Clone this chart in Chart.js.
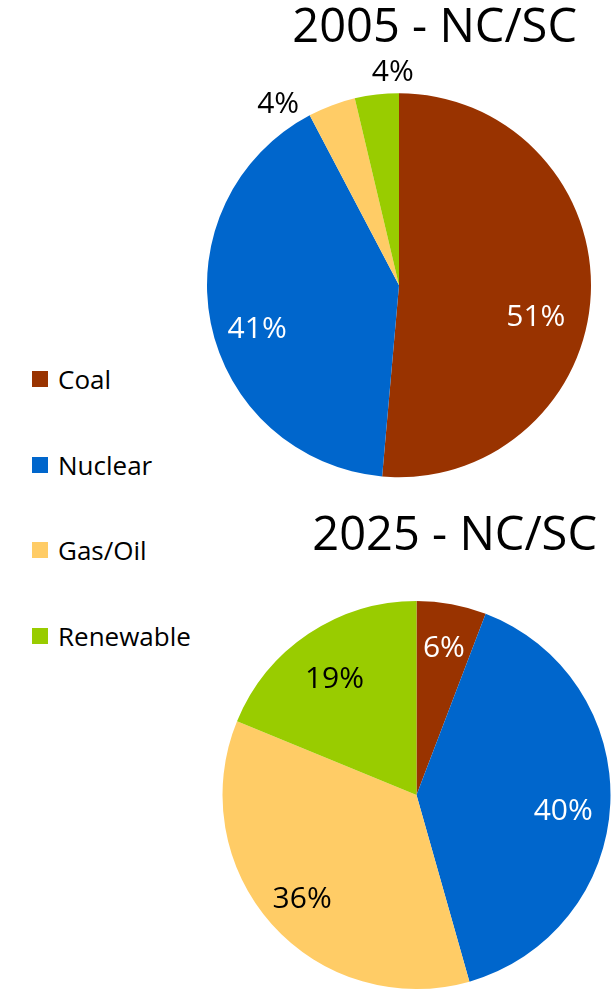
<!DOCTYPE html>
<html>
<head>
<meta charset="utf-8">
<title>NC/SC generation mix</title>
<script src="https://cdn.jsdelivr.net/npm/chart.js@4.4.1/dist/chart.umd.min.js"></script>
<style>
    html, body { margin: 0; padding: 0; background: #fff; overflow: hidden; }
    #page { position: relative; width: 616px; height: 990px; font-family: 'Open Sans', sans-serif; }
    .chart-box { position: absolute; }
    #box2005 { left: 200px; top: 0; width: 398px; height: 490px; }
    #box2025 { left: 217px; top: 508px; width: 399px; height: 482px; }
    #legend { position: absolute; left: 32px; top: 364px; margin: 0; padding: 0; list-style: none; }
    #legend li { display: flex; align-items: center; height: 30px; margin-bottom: 55.5px; font-size: 26px; color: #000; }
    #legend .swatch { width: 16px; height: 16px; margin-right: 10px; flex: none; }
</style>
</head>
<body>
<div id="page">
    <div class="chart-box" id="box2005"><canvas id="chart2005"></canvas></div>
    <div class="chart-box" id="box2025"><canvas id="chart2025"></canvas></div>
    <ul id="legend"></ul>
</div>
<script>
// ============================================================================
// Data (shares in percent)
// ============================================================================
const SOURCES = ['Coal', 'Nuclear', 'Gas/Oil', 'Renewable'];
const SHARE_2005 = [51.4, 40.9, 4.0, 3.7];
const SHARE_2025 = [5.8, 39.8, 35.6, 18.8];
const TITLE_2005 = '2005 - NC/SC';
const TITLE_2025 = '2025 - NC/SC';

// Excel-ish palette
const COLORS = ['#993300', '#0066cc', '#ffcc66', '#99cc00'];
const LABEL_INK = ['#ffffff', '#ffffff', '#000000', '#000000'];
const FONT = "'Open Sans', sans-serif";

// ============================================================================
// Legend (HTML, built from the same arrays)
// ============================================================================
const legendEl = document.getElementById('legend');
SOURCES.forEach((name, i) => {
    const li = document.createElement('li');
    const sw = document.createElement('span');
    sw.className = 'swatch';
    sw.style.background = COLORS[i];
    li.appendChild(sw);
    li.appendChild(document.createTextNode(name));
    legendEl.appendChild(li);
});

/**
 * Percentage labels drawn on (or just outside) each slice.
 * dist = fraction of the radius, nudge = degrees added to the mid angle.
 */
function makeLabelPlugin(dist, nudge) {
    return {
        id: 'pieLabels',
        afterDatasetsDraw(chart) {
            const ctx = chart.ctx;
            const values = chart.data.datasets[0].data;
            const total = values.reduce((a, b) => a + b, 0);
            const arcs = chart.getDatasetMeta(0).data;
            const size = 30;

            ctx.save();
            ctx.font = `${size}px ${FONT}`;
            ctx.textAlign = 'center';
            ctx.textBaseline = 'alphabetic';
            arcs.forEach((arc, i) => {
                const p = arc.getProps(['x', 'y', 'startAngle', 'endAngle', 'outerRadius'], true);
                const pct = values[i] / total * 100;
                const outside = pct < 5;
                const mid = (p.startAngle + p.endAngle) / 2 + nudge[i] * Math.PI / 180;
                const lx = p.x + Math.cos(mid) * p.outerRadius * dist[i];
                const ly = p.y + Math.sin(mid) * p.outerRadius * dist[i];
                ctx.fillStyle = outside ? '#000000' : LABEL_INK[i];
                ctx.fillText(Math.round(pct) + '%', lx, ly + size * 0.357);
            });
            ctx.restore();
        }
    };
}

function renderPie(canvasId, title, values, radius, padX, titleGap, labelDist, labelNudge) {
    const ctx = document.getElementById(canvasId).getContext('2d');
    return new Chart(ctx, {
        type: 'pie',
        data: {
            labels: SOURCES,
            datasets: [{
                data: values,
                backgroundColor: COLORS,
                borderWidth: 0,
                radius: radius,
                clip: false
            }]
        },
        options: {
            responsive: true,
            maintainAspectRatio: false,
            animation: false,
            layout: { padding: { left: padX, right: padX, top: 0, bottom: 0 } },
            plugins: {
                legend: { display: false },
                tooltip: { enabled: false },
                title: {
                    display: true,
                    text: title,
                    align: 'end',
                    color: '#000000',
                    font: { family: FONT, size: 47, weight: 'normal', lineHeight: 1.2 },
                    padding: { top: 0, bottom: titleGap }
                }
            }
        },
        plugins: [makeLabelPlugin(labelDist, labelNudge)]
    });
}

renderPie('chart2005', TITLE_2005, SHARE_2005, 192, 21, 24,
    [0.73, 0.77, 1.14, 1.12], [10, -5, -13, 5]);
renderPie('chart2025', TITLE_2025, SHARE_2025, 194, 19, 35.6,
    [0.78, 0.76, 0.79, 0.74], [0, 3, 0, -1]);
</script>
</body>
</html>
